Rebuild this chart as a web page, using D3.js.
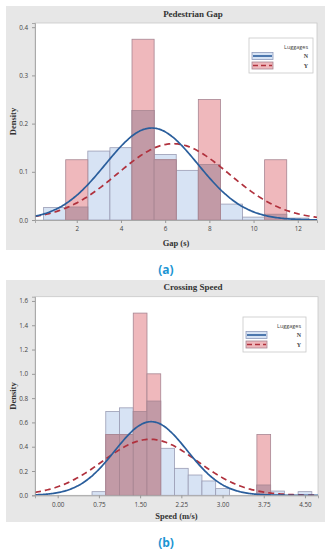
<!DOCTYPE html>
<html><head><meta charset="utf-8">
<script src="https://cdn.jsdelivr.net/npm/d3@7"></script>
<style>body{margin:0;background:#fff}svg{display:block}</style>
</head><body><svg id="c" width="328" height="552"></svg>
<script>
// ---- Data: Pedestrian Gap ----
const gapBins = [1,2,3,4,5,6,7,8,9,10,11,12];         // bin centres (s), width 1
const gapN    = [0.026,0.027,0.143,0.150,0.227,0.136,0.103,0.115,0.033,0.006,0.012,0.004];
const gapY    = [0,0.125,0,0,0.375,0.125,0,0.25,0,0,0.125,0];
const gapFitN = [5.39, 2.09];   // normal fit: mean, sd
const gapFitY = [6.36, 2.52];
const gapTicks = [2,4,6,8,10,12];
const gapYTicks = [0.0,0.1,0.2,0.3,0.4];
// ---- Data: Crossing Speed ----
const spdBins = [0.75,1.0,1.25,1.5,1.75,2.0,2.25,2.5,2.75,3.0,3.25,3.5,3.75,4.0,4.25,4.5]; // width 0.25
const spdN    = [0.03,0.69,0.72,0.69,0.776,0.387,0.222,0.167,0.118,0.055,0,0,0.085,0.035,0,0.03];
const spdY    = [0,0.5,0.5,1.5,1.0,0,0,0,0,0,0,0,0.5,0,0,0];
const spdFitN = [1.70, 0.658];
const spdFitY = [1.68, 0.865];
const spdTicks = [0,0.75,1.5,2.25,3.0,3.75,4.5];
const spdYTicks = [0.0,0.2,0.4,0.6,0.8,1.0,1.2,1.4,1.6];
const legendTitle = "Luggages", legendKeys = ["N","Y"];

const svg = d3.select("#c");
const serif = "'Liberation Serif','DejaVu Serif',serif";
const sans = "'Open Sans','Liberation Sans',sans-serif";
const C = {blue:"#d7e3f4", blueB:"#9a9cb4", pink:"#efb8bc", pinkB:"#a78592", over:"#c29aa6",
           lineN:"#2a5e9c", lineY:"#b0313d"};

function npdf(x,m,s){return Math.exp(-0.5*((x-m)/s)**2)/(s*Math.sqrt(2*Math.PI));}

function panel(o){
  const g = svg.append("g");
  g.append("rect").attr("x",o.box[0]).attr("y",o.box[1]).attr("width",o.box[2]-o.box[0]).attr("height",o.box[3]-o.box[1]).attr("fill","#e7e7e7");
  const x = d3.scaleLinear().domain(o.xd).range([o.pl,o.pr]);
  const y = d3.scaleLinear().domain(o.yd).range([o.pb,o.pt]);
  g.append("rect").attr("x",o.pl).attr("y",o.pt).attr("width",o.pr-o.pl).attr("height",o.pb-o.pt).attr("fill","#fff").attr("stroke","#c8c8c8").attr("stroke-width",0.8);
  const clipId = "clip"+o.id;
  svg.append("clipPath").attr("id",clipId).append("rect").attr("x",o.pl).attr("y",o.pt).attr("width",o.pr-o.pl).attr("height",o.pb-o.pt);
  const pg = g.append("g").attr("clip-path",`url(#${clipId})`);
  const hw = o.w/2;
  // blue bars
  pg.selectAll(".bn").data(o.bins.map((b,i)=>({b,v:o.N[i]})).filter(d=>d.v>0)).join("rect")
    .attr("x",d=>x(d.b-hw)).attr("width",d=>x(d.b+hw)-x(d.b-hw)).attr("y",d=>y(d.v)).attr("height",d=>y(0)-y(d.v))
    .attr("fill",C.blue).attr("stroke",C.blueB).attr("stroke-width",0.8);
  // pink bars
  pg.selectAll(".by").data(o.bins.map((b,i)=>({b,v:o.Y[i],n:o.N[i]})).filter(d=>d.v>0)).join("rect")
    .attr("x",d=>x(d.b-hw)).attr("width",d=>x(d.b+hw)-x(d.b-hw)).attr("y",d=>y(d.v)).attr("height",d=>y(0)-y(d.v))
    .attr("fill",C.pink).attr("stroke",C.pinkB).attr("stroke-width",0.8);
  // overlap
  pg.selectAll(".bo").data(o.bins.map((b,i)=>({b,v:Math.min(o.Y[i],o.N[i])})).filter(d=>d.v>0)).join("rect")
    .attr("x",d=>x(d.b-hw)).attr("width",d=>x(d.b+hw)-x(d.b-hw)).attr("y",d=>y(d.v)).attr("height",d=>y(0)-y(d.v))
    .attr("fill",C.over).attr("stroke",C.pinkB).attr("stroke-width",0.8);
  // curves
  const xs = d3.range(0,201).map(i=>o.xd[0]+(o.xd[1]-o.xd[0])*i/200);
  const line = d3.line().x(d=>x(d[0])).y(d=>y(d[1])).curve(d3.curveBasis);
  pg.append("path").attr("d",line(xs.map(v=>[v,npdf(v,o.fitY[0],o.fitY[1])]))).attr("fill","none")
    .attr("stroke",C.lineY).attr("stroke-width",1.7).attr("stroke-dasharray","6,4");
  pg.append("path").attr("d",line(xs.map(v=>[v,npdf(v,o.fitN[0],o.fitN[1])]))).attr("fill","none")
    .attr("stroke",C.lineN).attr("stroke-width",1.7);
  // axes
  const xa = g.append("g").attr("transform",`translate(0,${o.pb})`)
    .call(d3.axisBottom(x).tickValues(o.xt).tickSize(3).tickPadding(4).tickFormat(o.xf));
  const ya = g.append("g").attr("transform",`translate(${o.pl},0)`)
    .call(d3.axisLeft(y).tickValues(o.yt).tickSize(3).tickPadding(4).tickFormat(d3.format(".1f")));
  [xa,ya].forEach(a=>{a.select(".domain").attr("stroke","#999").attr("stroke-width",0.8);
    a.selectAll("line").attr("stroke","#999");
    a.selectAll("text").attr("font-family",sans).attr("font-size",6.3).attr("fill","#444");});
  // titles
  g.append("text").attr("x",193).attr("y",o.titleY).attr("text-anchor","middle").attr("font-family",serif)
    .attr("font-weight","bold").attr("font-size",9).attr("fill","#333").text(o.title);
  g.append("text").attr("x",(o.pl+o.pr)/2).attr("y",o.xlabY).attr("text-anchor","middle").attr("font-family",serif)
    .attr("font-weight","bold").attr("font-size",8.5).attr("fill","#333").text(o.xlab);
  g.append("text").attr("transform",`translate(16,${(o.pt+o.pb)/2}) rotate(-90)`).attr("text-anchor","middle")
    .attr("font-family",serif).attr("font-weight","bold").attr("font-size",8.5).attr("fill","#333").text("Density");
  // legend
  const L = o.leg;
  g.append("rect").attr("x",L[0]).attr("y",L[1]).attr("width",L[2]).attr("height",L[3]).attr("fill","#fff").attr("stroke","#c8c8c8").attr("stroke-width",0.8);
  const rx = L[0]+L[2]-5;
  g.append("text").attr("x",rx).attr("y",L[1]+11).attr("text-anchor","end").attr("font-family",sans).attr("font-size",5.5).attr("fill","#444").text(legendTitle);
  legendKeys.forEach((k,i)=>{
    const cy = L[1]+18+i*9.5;
    g.append("rect").attr("x",L[0]+3).attr("y",cy-3.5).attr("width",21).attr("height",7)
      .attr("fill",i?C.pink:C.blue).attr("stroke",i?C.pinkB:"#8f9bbb").attr("stroke-width",0.8);
    g.append("line").attr("x1",L[0]+4).attr("x2",L[0]+23).attr("y1",cy).attr("y2",cy)
      .attr("stroke",i?C.lineY:C.lineN).attr("stroke-width",1.6).attr("stroke-dasharray",i?"5,3":null);
    g.append("text").attr("x",rx).attr("y",cy+2).attr("text-anchor","end").attr("font-family",serif).attr("font-weight","bold")
      .attr("font-size",6).attr("fill","#444").text(k);
  });
  svg.append("text").attr("x",166).attr("y",o.capY).attr("text-anchor","middle").attr("font-family",sans)
    .attr("font-weight","bold").attr("font-size",12).attr("fill","#1c95d3").text(o.cap);
}

panel({id:"a",box:[6,6,325,250],pl:35,pr:317,pt:23,pb:220,xd:[0.11,12.87],yd:[0,0.4087],
  bins:gapBins,w:1,N:gapN,Y:gapY,fitN:gapFitN,fitY:gapFitY,xt:gapTicks,yt:gapYTicks,xf:d3.format("d"),
  title:"Pedestrian Gap",titleY:17,xlab:"Gap (s)",xlabY:246,leg:[249,38,64,35],cap:"(a)",capY:274});
panel({id:"b",box:[6,280,325,522],pl:35,pr:318,pt:296.7,pb:495.3,xd:[-0.413,4.737],yd:[0,1.635],
  bins:spdBins,w:0.25,N:spdN,Y:spdY,fitN:spdFitN,fitY:spdFitY,xt:spdTicks,yt:spdYTicks,xf:d3.format(".2f"),
  title:"Crossing Speed",titleY:290,xlab:"Speed (m/s)",xlabY:519,leg:[243,317,63,35],cap:"(b)",capY:547});
</script></body></html>
